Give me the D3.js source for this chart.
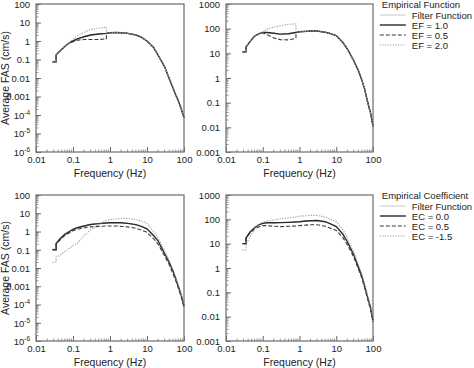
<!DOCTYPE html>
<html><head><meta charset="utf-8">
<script src="https://cdn.jsdelivr.net/npm/d3@7"></script>
<style>
body{margin:0;background:#fff;}
svg{display:block;font-family:"Liberation Sans",Arial,sans-serif;}
</style></head>
<body><svg id="c" width="474" height="368"></svg>
<script>
// ---------- DATA ----------
const freq = [0.028,0.035,0.035,0.045,0.06,0.08,0.1,0.13,0.2,0.3,0.5,0.8,0.8,1,1.5,2,3,5,7,10,15,20,30,40,50,60,70,85,100];

// Top-left: Empirical Function (FAS, cm/s)
const tlFilter = [0.075,0.075,0.18,0.3,0.5,0.8,1.0,1.3,1.7,2.1,2.4,2.6,2.6,2.8,2.9,2.8,2.6,2.1,1.6,1.0,0.45,0.17,0.04,0.009,0.003,0.0012,0.0006,0.0002,0.00007];
const tlEF10   = [0.075,0.075,0.18,0.3,0.5,0.8,1.0,1.3,1.7,2.1,2.4,2.6,2.6,2.8,2.9,2.8,2.6,2.1,1.6,1.0,0.45,0.17,0.04,0.009,0.003,0.0012,0.0006,0.0002,0.00007];
const tlEF05   = [0.075,0.075,0.18,0.3,0.5,0.8,0.9,1.1,1.2,1.2,1.2,1.3,2.6,2.8,2.9,2.8,2.6,2.1,1.6,1.0,0.45,0.17,0.04,0.009,0.003,0.0012,0.0006,0.0002,0.00007];
const tlEF20   = [0.075,0.075,0.18,0.3,0.5,0.8,1.3,1.9,3.0,4.2,5.0,5.5,2.8,2.8,2.9,2.8,2.6,2.1,1.6,1.0,0.45,0.17,0.04,0.009,0.003,0.0012,0.0006,0.0002,0.00007];

// Top-right: Empirical Function
const trFilter = [11.5,11.5,18,30,50,63,70,70,65,60,62,70,70,75,78,80,80,72,63,52,28,15,5,2,0.8,0.33,0.12,0.04,0.011];
const trEF10   = [11.5,11.5,18,30,50,63,70,70,65,60,62,70,70,75,78,80,80,72,63,52,28,15,5,2,0.8,0.33,0.12,0.04,0.011];
const trEF05   = [11.5,11.5,18,30,50,63,68,58,42,36,35,40,70,75,78,80,80,72,63,52,28,15,5,2,0.8,0.33,0.12,0.04,0.011];
const trEF20   = [11.5,11.5,18,30,50,63,72,95,115,130,150,155,72,75,78,80,80,72,63,52,28,15,5,2,0.8,0.33,0.12,0.04,0.011];

// Bottom-left: Empirical Coefficient
const blFilter = [0.11,0.11,0.24,0.42,0.72,1.05,1.35,1.65,2.05,2.45,2.75,2.95,2.95,3.0,3.0,3.0,2.8,2.4,1.9,1.4,0.6,0.3,0.06,0.02,0.007,0.0025,0.001,0.0003,0.00008];
const blEC00   = [0.1,0.1,0.22,0.4,0.7,1.0,1.3,1.6,2.0,2.4,2.7,2.9,2.9,3.0,3.0,3.0,2.8,2.4,1.9,1.4,0.6,0.3,0.06,0.02,0.007,0.0025,0.001,0.0003,0.00008];
const blEC05   = [0.1,0.1,0.2,0.35,0.6,0.85,1.1,1.3,1.6,1.8,1.9,2.0,2.0,2.0,2.0,1.9,1.8,1.5,1.2,0.9,0.4,0.2,0.045,0.015,0.005,0.002,0.0008,0.00025,0.00007];
const blECm15  = [0.02,0.022,0.04,0.05,0.08,0.12,0.17,0.22,0.6,1.2,2.5,4.0,4.0,4.5,5.0,5.3,5.2,4.5,3.8,2.8,1.0,0.45,0.09,0.025,0.008,0.003,0.0012,0.00035,0.00009];

// Bottom-right: Empirical Coefficient
const brFilter = [10,10,17,30,45,60,68,72,72,73,75,78,78,80,85,88,90,80,65,50,25,12,3.5,1.1,0.45,0.17,0.07,0.025,0.007];
const brEC00   = [10,10,17,30,45,60,68,72,72,73,75,78,78,80,85,88,90,80,65,50,25,12,3.5,1.1,0.45,0.17,0.07,0.025,0.007];
const brEC05   = [10,10,16,28,40,50,55,55,52,50,52,53,53,55,58,60,60,52,43,35,18,9,2.8,0.9,0.38,0.14,0.06,0.02,0.006];
const brECm15  = [5.5,5.5,9,20,40,60,75,85,95,105,115,125,125,135,140,145,145,125,100,80,38,18,4.5,1.4,0.55,0.2,0.08,0.028,0.008];

const xTicks = [0.01,0.1,1,10,100];
const xTickLabels = ["0.01","0.1","1","10","100"];
const yTicksLeft = [100,10,1,0.1,0.01,0.001,1e-4,1e-5,1e-6];
const yTickLabelsLeft = ["100","10","1","0.1","0.01","0.001","10^-4","10^-5","10^-6"];
const yTicksRight = [1000,100,10,1,0.1,0.01,0.001];
const yTickLabelsRight = ["1000","100","10","1","0.1","0.01","0.001"];

const topLegendTitle = "Empirical Function";
const topLegendLabels = ["Filter Function","EF = 1.0","EF = 0.5","EF = 2.0"];
const botLegendTitle = "Empirical Coefficient";
const botLegendLabels = ["Filter Function","EC = 0.0","EC = 0.5","EC = -1.5"];
const xTitle = "Frequency (Hz)";
const yTitle = "Average FAS (cm/s)";

// ---------- STYLE ----------
const styles = [
  {stroke:"#c8c8c8", width:1.0, dash:null},
  {stroke:"#2a2a2a", width:1.4, dash:null},
  {stroke:"#3a3a3a", width:1.1, dash:"4,2"},
  {stroke:"#9a9a9a", width:1.1, dash:"1.2,1.4"}
];

const svg = d3.select("#c");

function panel(cfg){
  const x = d3.scaleLog().domain([0.01,100]).range([cfg.x0,cfg.x1]);
  const y = d3.scaleLog().domain(cfg.yDomain).range([cfg.y1,cfg.y0]);
  const g = svg.append("g");

  const minorX = [];
  for(let d=-2; d<2; d++) for(let k=2;k<=9;k++) minorX.push(k*Math.pow(10,d));
  g.append("g").selectAll("line").data(minorX).join("line")
    .attr("x1",d=>x(d)).attr("x2",d=>x(d)).attr("y1",cfg.y1).attr("y2",cfg.y1-2.5)
    .attr("stroke","#666").attr("stroke-width",0.7);
  const lo = Math.round(Math.log10(cfg.yDomain[0])), hi = Math.round(Math.log10(cfg.yDomain[1]));
  const minorY = [];
  for(let d=lo; d<hi; d++) for(let k=2;k<=9;k++) minorY.push(k*Math.pow(10,d));
  g.append("g").selectAll("line").data(minorY).join("line")
    .attr("x1",cfg.x0).attr("x2",cfg.x0+2.5).attr("y1",d=>y(d)).attr("y2",d=>y(d))
    .attr("stroke","#666").attr("stroke-width",0.7);

  const ax = g.append("g").attr("transform",`translate(0,${cfg.y1})`)
    .call(d3.axisBottom(x).tickValues(xTicks).tickFormat((d,i)=>xTickLabels[i]).tickSize(-5).tickPadding(4));
  const ay = g.append("g").attr("transform",`translate(${cfg.x0},0)`)
    .call(d3.axisLeft(y).tickValues(cfg.yTicks).tickFormat((d,i)=>cfg.yLabels[i]).tickSize(-5).tickPadding(6));
  [ax,ay].forEach(a=>{
    a.select(".domain").remove();
    a.selectAll(".tick line").attr("stroke","#444").attr("stroke-width",0.8);
    a.selectAll("text").attr("font-size",9.5).attr("fill","#222").attr("font-family","Liberation Sans, Arial, sans-serif");
  });
  ay.selectAll(".tick text").each(function(d,i){
    const s = cfg.yLabels[i];
    if(s.indexOf("^")>=0){
      const parts = s.split("^");
      const t = d3.select(this).text(parts[0]);
      t.append("tspan").attr("dy",-4).attr("font-size",6.5).text(parts[1]);
    }
  });
  ay.selectAll(".tick text").attr("dy","0.35em");

  g.append("rect").attr("x",cfg.x0).attr("y",cfg.y0).attr("width",cfg.x1-cfg.x0).attr("height",cfg.y1-cfg.y0)
    .attr("fill","none").attr("stroke","#777").attr("stroke-width",1.3);

  const line = d3.line().x(d=>x(d[0])).y(d=>y(d[1]));
  cfg.series.forEach((s,i)=>{
    g.append("path").datum(freq.map((f,j)=>[f,s[j]]))
      .attr("d",line).attr("fill","none")
      .attr("stroke",styles[i].stroke).attr("stroke-width",styles[i].width)
      .attr("stroke-dasharray",styles[i].dash);
  });

  g.append("text").attr("x",(cfg.x0+cfg.x1)/2).attr("y",cfg.y1+25).attr("text-anchor","middle")
    .attr("font-size",10.5).attr("fill","#222").text(xTitle);
  if(cfg.yTitle){
    g.append("text").attr("transform",`translate(9,${(cfg.y0+cfg.y1)/2}) rotate(-90)`)
      .attr("text-anchor","middle").attr("font-size",10.5).attr("fill","#222").text(yTitle);
  }
}

panel({x0:36,x1:184,y0:4,y1:152,yDomain:[1e-6,100],yTicks:yTicksLeft,yLabels:yTickLabelsLeft,series:[tlFilter,tlEF10,tlEF05,tlEF20],yTitle:true});
panel({x0:226,x1:373,y0:4,y1:152,yDomain:[1e-3,1000],yTicks:yTicksRight,yLabels:yTickLabelsRight,series:[trFilter,trEF10,trEF05,trEF20],yTitle:false});
panel({x0:226,x1:373,y0:195,y1:341,yDomain:[1e-3,1000],yTicks:yTicksRight,yLabels:yTickLabelsRight,series:[brFilter,brEC00,brEC05,brECm15],yTitle:false});
panel({x0:36,x1:184,y0:195,y1:341,yDomain:[1e-6,100],yTicks:yTicksLeft,yLabels:yTickLabelsLeft,series:[blFilter,blEC00,blEC05,blECm15],yTitle:true});

function legend(title, labels, ty){
  const g = svg.append("g");
  const fs = 9.5;
  const texts = [];
  texts.push(g.append("text").attr("x",389).attr("y",ty+4).attr("font-size",fs).attr("fill","#222").text(title));
  labels.forEach((l,i)=>{
    const yy = ty+11+i*10;
    g.append("line").attr("x1",387).attr("x2",413).attr("y1",yy).attr("y2",yy)
      .attr("stroke",styles[i].stroke).attr("stroke-width",styles[i].width).attr("stroke-dasharray",styles[i].dash);
    texts.push(g.append("text").attr("x",419).attr("y",yy+3.5).attr("font-size",fs).attr("fill","#222").text(l));
  });
  let maxR = 0;
  texts.forEach(t=>{ const b=t.node().getBBox(); maxR=Math.max(maxR,b.x+b.width); });
  const shift = Math.max(0, maxR - 472);
  g.attr("transform",`translate(${-shift},0)`);
}
legend(topLegendTitle, topLegendLabels, 4);
legend(botLegendTitle, botLegendLabels, 195);
</script></body></html>
